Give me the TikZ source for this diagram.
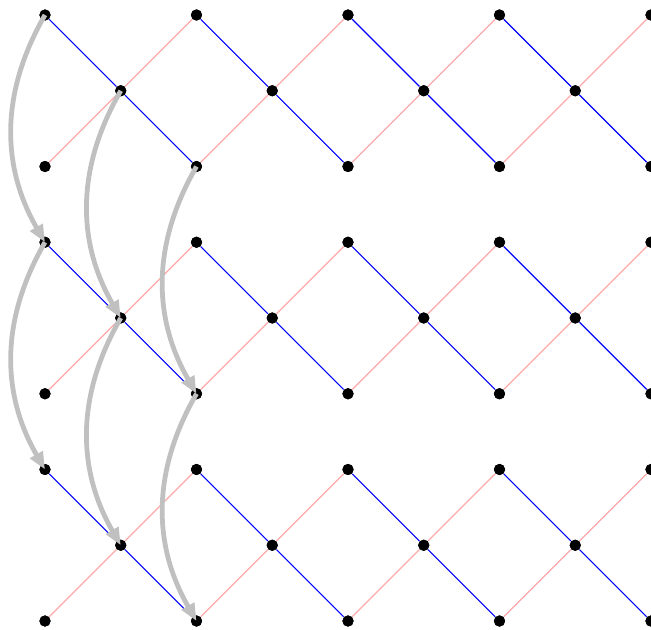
\documentclass[tikz,border=0pt]{standalone}
\usetikzlibrary{arrows.meta}
\definecolor{pinkc}{RGB}{255,168,168}
\definecolor{arrowgray}{RGB}{192,192,192}
\tikzset{
  dot/.style={circle,fill=black,inner sep=0pt,minimum size=4.2pt},
  blueline/.style={blue,line width=0.4pt},
  pinkline/.style={pinkc,line width=0.45pt},
  jump/.style={arrowgray,line width=1.8pt,-{Triangle[length=6.5pt,width=5.2pt]},bend right=30},
}
\begin{document}
\begin{tikzpicture}
\useasboundingbox (-0.594,0.198) rectangle (8.0,-8.106);
% dots
\foreach \b in {0,1,2}{
  \pgfmathtruncatemacro{\rtop}{3*\b}
  \pgfmathtruncatemacro{\rmid}{3*\b+1}
  \pgfmathtruncatemacro{\rbot}{3*\b+2}
  \foreach \i in {0,2,4,6,8}{
    \node[dot] (n-\i-\rtop) at (\i,-\rtop) {};
    \node[dot] (n-\i-\rbot) at (\i,-\rbot) {};
  }
  \foreach \i in {1,3,5,7}{
    \node[dot] (n-\i-\rmid) at (\i,-\rmid) {};
  }
}
% lines
\foreach \b in {0,1,2}{
  \pgfmathtruncatemacro{\rtop}{3*\b}
  \pgfmathtruncatemacro{\rmid}{3*\b+1}
  \pgfmathtruncatemacro{\rbot}{3*\b+2}
  \foreach \i in {0,2,4,6}{
    \pgfmathtruncatemacro{\m}{\i+1}
    \pgfmathtruncatemacro{\e}{\i+2}
    \draw[pinkline] (n-\i-\rbot) -- (n-\m-\rmid) -- (n-\e-\rtop);
    \draw[blueline] (n-\i-\rtop) -- (n-\m-\rmid) -- (n-\e-\rbot);
  }
}
% redraw dots on top of lines
\foreach \b in {0,1,2}{
  \pgfmathtruncatemacro{\rtop}{3*\b}
  \pgfmathtruncatemacro{\rmid}{3*\b+1}
  \pgfmathtruncatemacro{\rbot}{3*\b+2}
  \foreach \i in {0,2,4,6,8}{
    \fill (n-\i-\rtop) circle (2.1pt);
    \fill (n-\i-\rbot) circle (2.1pt);
  }
  \foreach \i in {1,3,5,7}{
    \fill (n-\i-\rmid) circle (2.1pt);
  }
}
% arrows
\draw[jump] (n-0-0.center) to (n-0-3.center);
\draw[jump] (n-1-1.center) to (n-1-4.center);
\draw[jump] (n-2-2.center) to (n-2-5.center);
\draw[jump] (n-0-3.center) to (n-0-6.center);
\draw[jump] (n-1-4.center) to (n-1-7.center);
\draw[jump] (n-2-5.center) to (n-2-8.center);
\end{tikzpicture}
\end{document}
